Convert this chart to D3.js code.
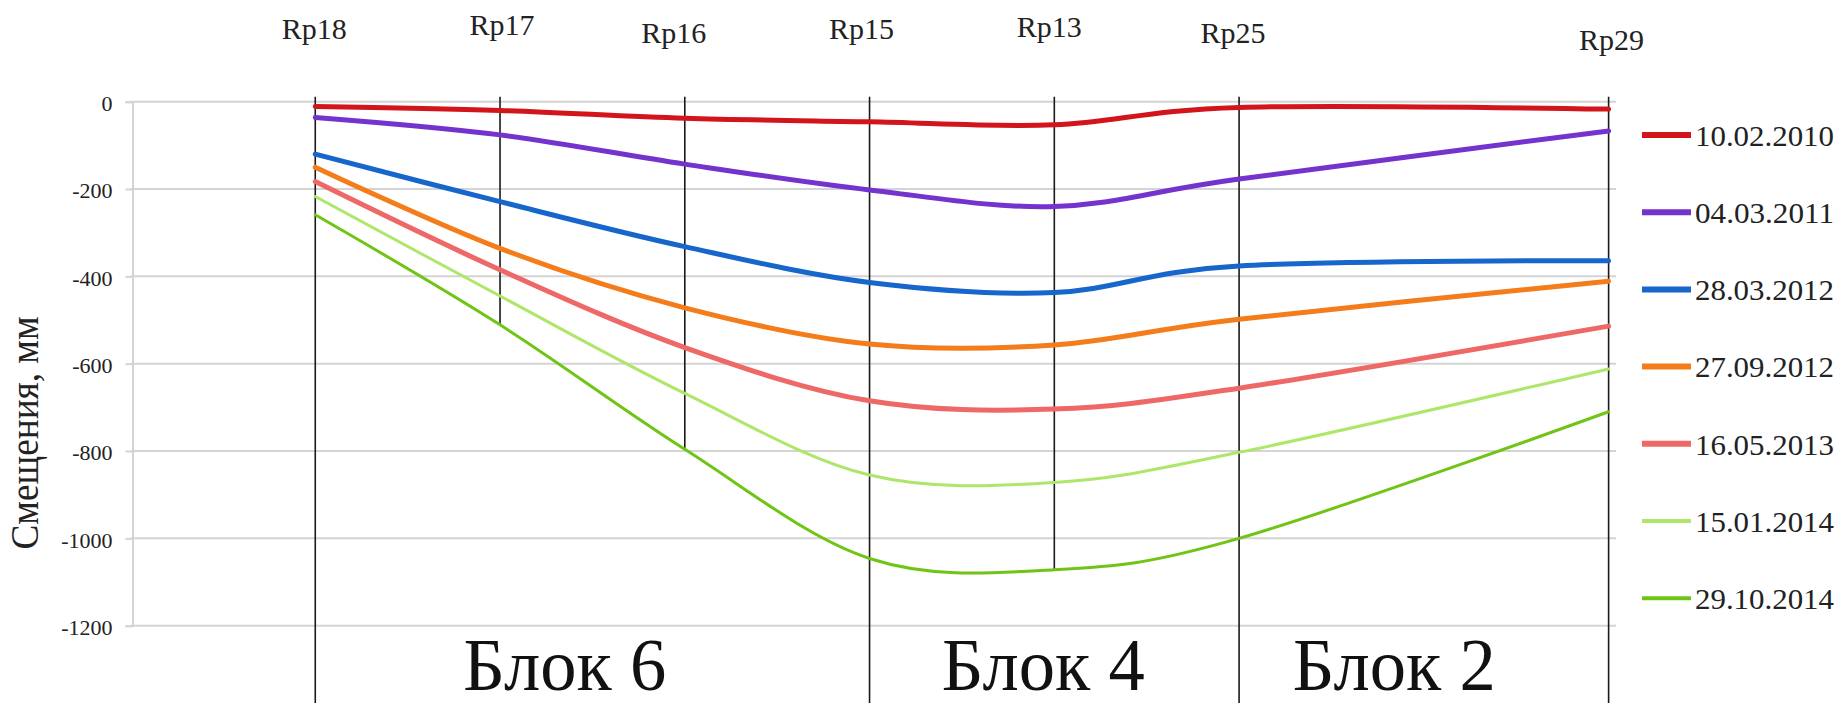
<!DOCTYPE html>
<html>
<head>
<meta charset="utf-8">
<script src="https://cdn.jsdelivr.net/npm/d3@7"></script>
<style>
  html, body { margin: 0; padding: 0; background: #fff; }
  svg { display: block; font-family: "Liberation Serif", "Times New Roman", serif; }
</style>
</head>
<body>
<svg id="chart" width="1845" height="705"></svg>
<script>
// ---------------- data ----------------
const stations   = ["Rp18", "Rp17", "Rp16", "Rp15", "Rp13", "Rp25", "Rp29"];
const stationPos = [0, 1, 2, 3, 4, 5, 7];          // position of each benchmark along the profile
const seriesNames = ["10.02.2010", "04.03.2011", "28.03.2012", "27.09.2012", "16.05.2013", "15.01.2014", "29.10.2014"];
const v_10_02_2010 = [-11, -20, -38, -46, -53, -13, -17];
const v_04_03_2011 = [-36, -76, -143, -202, -240, -177, -67];
const v_28_03_2012 = [-120, -229, -332, -414, -437, -376, -364];
const v_27_09_2012 = [-150, -336, -472, -555, -557, -498, -411];
const v_16_05_2013 = [-183, -385, -563, -685, -704, -656, -514];
const v_15_01_2014 = [-217, -445, -668, -855, -872, -803, -612];
const v_29_10_2014 = [-259, -511, -796, -1046, -1072, -1000, -710];
const yTicks = [0, -200, -400, -600, -800, -1000, -1200];
const yTitle = "Смещения, мм";
const blockNames = ["Блок 6", "Блок 4", "Блок 2"];
const blockLabelPos = [1.35, 3.94, 5.84];            // label centre along the profile
const dividerStations = ["Rp18", "Rp15", "Rp25", "Rp29"]; // block boundaries

// ---------------- styles ----------------
const colors = ["#d2141b", "#7433cc", "#1666cc", "#f57c1a", "#ef6868", "#aee66a", "#70c415"];
const widths = [5, 5, 5, 5, 5, 3, 3];
const legendWidths = [6, 6, 6, 6, 6, 4, 4];
const stationLabelDy = [39, 35, 43, 39, 37, 43, 50];   // label baselines (px)
const stationLabelDx = [-1, 2, -11, -8, -5, -6, 3];

const allSeries = [v_10_02_2010, v_04_03_2011, v_28_03_2012, v_27_09_2012, v_16_05_2013, v_15_01_2014, v_29_10_2014];

const svg = d3.select("#chart");

const x = d3.scaleLinear().domain([-1, 7.04]).range([130.5, 1616]);
const y = d3.scaleLinear().domain([-1200, 0]).range([625.7, 101.7]);

// gridlines
svg.append("g").selectAll("line").data(yTicks).join("line")
  .attr("x1", x(-1)).attr("x2", x(7.04))
  .attr("y1", d => y(d)).attr("y2", d => y(d))
  .attr("stroke", "#d4d4d4").attr("stroke-width", 2);

// y axis
const yAxis = d3.axisLeft(y).tickValues(yTicks).tickSize(7).tickPadding(13).tickFormat(d3.format("d"));
const gy = svg.append("g").attr("transform", `translate(${x(-1) + 2},0)`).call(yAxis);
gy.select(".domain").attr("stroke", "#d4d4d4").attr("stroke-width", 2);
gy.selectAll(".tick line").attr("stroke", "#d4d4d4").attr("stroke-width", 2);
gy.selectAll(".tick text")
  .attr("font-family", "Liberation Serif").attr("font-size", 22).attr("fill", "#222")
  .attr("dy", "0.40em")
  .text(d => d === 0 ? "0" : "-" + Math.abs(d));

// y title
svg.append("text")
  .attr("transform", `translate(38,433) rotate(-90)`)
  .attr("text-anchor", "middle")
  .attr("font-size", 40).attr("fill", "#222")
  .attr("textLength", 233).attr("lengthAdjust", "spacingAndGlyphs")
  .text(yTitle);

// vertical station lines
const minAt = stationPos.map((p, i) => d3.min(allSeries, s => s[i]));
svg.append("g").selectAll("line").data(stations).join("line")
  .attr("x1", (d, i) => x(stationPos[i])).attr("x2", (d, i) => x(stationPos[i]))
  .attr("y1", y(0) - 5)
  .attr("y2", (d, i) => dividerStations.includes(d) ? 703 : y(minAt[i]))
  .attr("stroke", "#1a1a1a").attr("stroke-width", 1.6);

// series lines
const line = d3.line()
  .x((d, i) => x(stationPos[i]))
  .y(d => y(d))
  .curve(d3.curveCardinal.tension(0));
svg.append("g").selectAll("path").data(allSeries).join("path")
  .attr("d", d => line(d))
  .attr("fill", "none")
  .attr("stroke", (d, i) => colors[i])
  .attr("stroke-width", (d, i) => widths[i])
  .attr("stroke-linecap", "round").attr("stroke-linejoin", "round");

// station labels
svg.append("g").selectAll("text").data(stations).join("text")
  .attr("x", (d, i) => x(stationPos[i]) + stationLabelDx[i])
  .attr("y", (d, i) => stationLabelDy[i])
  .attr("text-anchor", "middle")
  .attr("font-size", 30).attr("fill", "#222")
  .text(d => d);

// block labels
svg.append("g").selectAll("text").data(blockNames).join("text")
  .attr("x", (d, i) => x(blockLabelPos[i]))
  .attr("y", 690)
  .attr("text-anchor", "middle")
  .attr("font-size", 75).attr("fill", "#111")
  .attr("textLength", 203).attr("lengthAdjust", "spacingAndGlyphs")
  .text(d => d);

// legend
const lg = svg.append("g").selectAll("g").data(seriesNames).join("g")
  .attr("transform", (d, i) => `translate(1642,${135 + i * 77.2})`);
lg.append("line").attr("x1", 0).attr("x2", 49).attr("y1", 0).attr("y2", 0)
  .attr("stroke", (d, i) => colors[i]).attr("stroke-width", (d, i) => legendWidths[i]);
lg.append("text").attr("x", 53).attr("y", 0).attr("dy", "0.36em")
  .attr("font-size", 30).attr("fill", "#222")
  .attr("textLength", 139).attr("lengthAdjust", "spacingAndGlyphs")
  .text(d => d);
</script>
</body>
</html>
